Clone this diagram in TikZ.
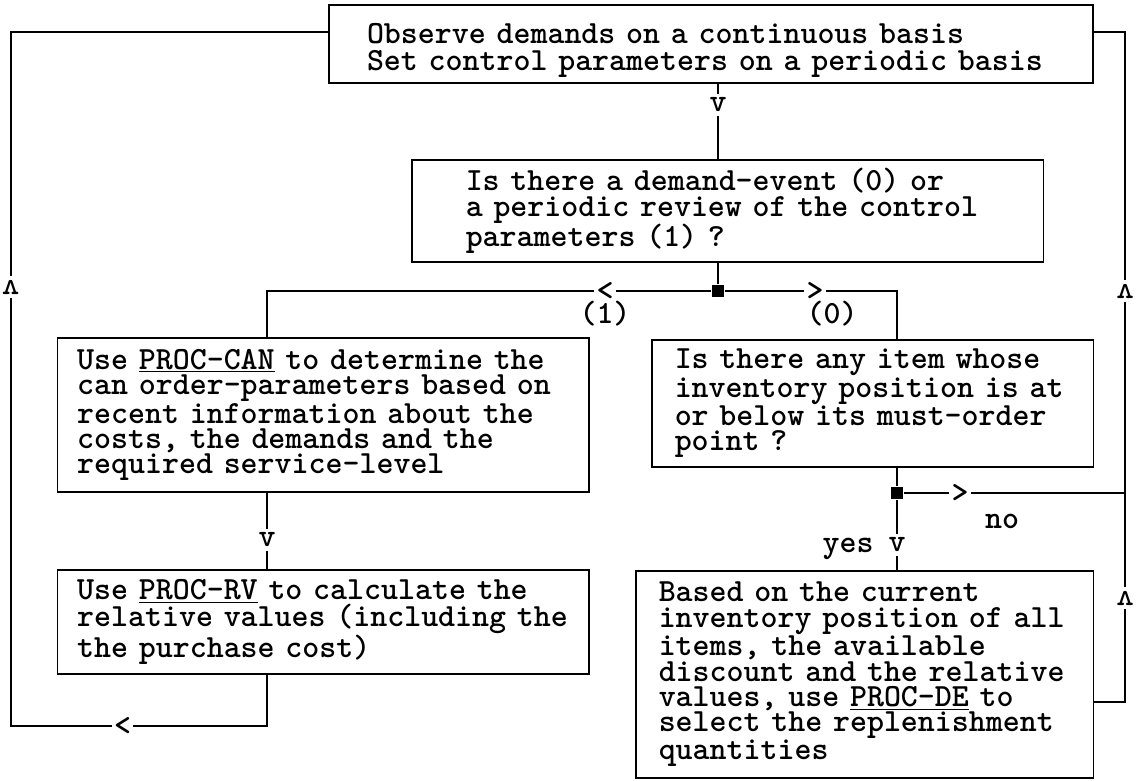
\documentclass[tikz,border=0pt]{standalone}

\begin{document}
\begin{tikzpicture}[line width=1.2pt,
    every node/.style={font=\fontsize{23}{18.1}\selectfont\ttfamily\bfseries},
    proc/.style={draw, inner sep=0pt, align=left},
    junc/.style={fill=black, inner sep=0pt, minimum size=0.32cm},
    hchev/.style={fill=white, inner xsep=1.5pt, inner ysep=0pt},
    vchev/.style={fill=white, inner xsep=0.5pt, inner ysep=3pt}]
                    \useasboundingbox (0,0) rectangle (28.525,-19.5);

                    % boxes
                    \node[proc, font=\fontsize{23}{19.2}\selectfont\ttfamily\bfseries, minimum width=19.1125cm, minimum height=1.95cm, text width=17.2cm] (obs) at (17.775,-1.1)
                        {\rule{0pt}{0.8cm}Observe demands on a continuous basis\\Set control parameters on a periodic basis};
                    \node[proc, minimum width=15.7875cm, minimum height=2.55cm, text width=13.1cm] (evt) at (18.194,-5.275)
                        {Is there a demand-event (0) or\\a periodic review of the control\\parameters (1) ?};
                    \node[proc, minimum width=13.29cm, minimum height=3.85cm, text width=12.3cm] (can) at (8.08,-10.375)
                        {Use \underline{PROC-CAN} to determine the\\can order-parameters based on\\recent information about the\\costs, the demands and the\\required service-level};
                    \node[proc, minimum width=11.0375cm, minimum height=3.175cm, text width=9.9cm] (must) at (21.819,-10.0875)
                        {Is there any item whose\\inventory position is at\\or below its must-order\\point ?};
                    \node[proc, minimum width=13.29cm, minimum height=2.6cm, text width=12.3cm] (rv) at (8.08,-15.55)
                        {Use \underline{PROC-RV} to calculate the\\relative values (including the\\the purchase cost)};
                    \node[proc, minimum width=11.4375cm, minimum height=5.175cm, text width=10.3cm] (repl) at (21.619,-16.8625)
                        {Based on the current\\inventory position of all\\items, the available\\discount and the relative\\values, use \underline{PROC-DE} to\\select the replenishment\\quantities};

                    \node[junc] (j1) at (17.95,-7.275) {};
                    \node[junc] (j2) at (22.425,-12.325) {};
                    \coordinate (xl) at (6.675,-7.275);
                    \coordinate (xr) at (22.425,-7.275);
                    \coordinate (lb) at (0.2675,-18.15);
                    \coordinate (rj) at (28.125,-17.55);

                    % connectors
                    \draw (j1 |- obs.south) -- (j1 |- evt.north);
                    \draw (j1 |- evt.south) -- (j1);
                    \draw (j1) -- (xl) -- (xl |- can.north);
                    \draw (j1) -- (xr) -- (xr |- must.north);
                    \draw (xl |- can.south) -- (xl |- rv.north);
                    \draw (xl |- rv.south) |- (lb) |- ([yshift=0.3cm]obs.west);
                    \draw (j2 |- must.south) -- (j2) -- (j2 |- repl.north);
                    \draw (j2) -- (rj |- j2);
                    \draw (repl.east |- rj) -- (rj) |- ([yshift=0.3cm]obs.east);

                    % arrow heads as characters on the lines
                    \node[vchev] (a1) at (17.95,-2.625) {v};
                    \node[hchev] (a2) at (15.125,-7.275) {<};
                    \node[hchev] (a3) at (20.375,-7.275) {>};
                    \node[vchev] (a4) at (6.675,-13.5) {v};
                    \node[hchev] (a5) at (3.0625,-18.15) {<};
                    \node[vchev, rotate=180] (a6) at (0.2675,-7.175) {v};
                    \node[vchev, rotate=180] (a7) at (28.125,-7.275) {v};
                    \node[vchev, rotate=180] (a8) at (28.125,-14.95) {v};
                    \node[hchev] (a9) at (24.0,-12.325) {>};
                    \node[vchev] (a10) at (22.425,-13.625) {v};

                    \node[anchor=base] (one) at (15.125,-8.075) {(1)};
                    \node[anchor=base] (zero) at (20.8,-8.075) {(0)};
                    \node[anchor=base] (no) at (25.05,-13.2) {no};
                    \node[anchor=base] (yes) at (21.2,-13.8) {yes};
                \end{tikzpicture}
\end{document}
